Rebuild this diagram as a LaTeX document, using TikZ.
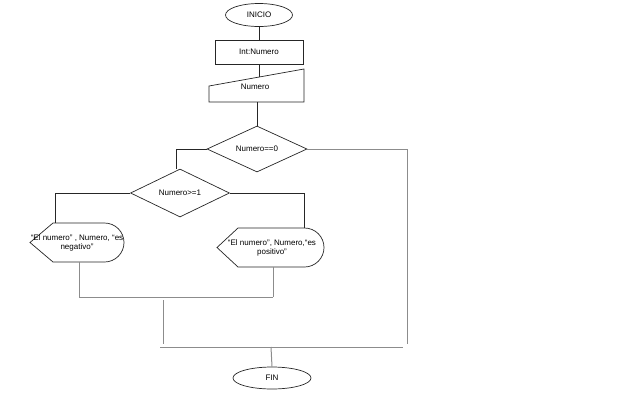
\documentclass[tikz,border=0pt]{standalone}
\usepackage{fontspec}
\setmainfont{Liberation Sans}
\usetikzlibrary{shapes.geometric}
\begin{document}
\begin{tikzpicture}[x=1pt,y=-1pt,font=\fontsize{8}{9.5}\selectfont,
  shp/.style={draw=black!85,line width=0.7pt},
  term/.style={shp,ellipse,inner sep=0pt},
  dec/.style={shp,diamond,inner sep=0pt,aspect=2.17},
  conn/.style={draw=black!85,line width=0.8pt},
  low/.style={draw=black!45,line width=1pt},
  txt/.style={inner sep=0pt,align=center}]
\useasboundingbox (0,0) rectangle (640,400);
% start
\node[term,minimum width=67pt,minimum height=23pt] (ini) at (259,15) {INICIO};
\node[shp,minimum width=88pt,minimum height=24pt,inner sep=0pt] (decl) at (259,52) {Int:Numero};
% manual input
\coordinate (mi1) at (209,86);
\coordinate (mi2) at (304,69);
\coordinate (mi3) at (304,102);
\coordinate (mi4) at (209,102);
\draw[shp] (mi1) -- (mi2) -- (mi3) -- (mi4) -- cycle;
\node[txt] (inp) at (255,87) {Numero};
\coordinate (inptop) at (259,77);
\coordinate (inpbot) at (257,102);
% decisions
\node[dec,minimum width=100pt,minimum height=46pt] (d1) at (257,149) {Numero==0};
\node[dec,minimum width=99pt,minimum height=48pt] (d2) at (180,193) {Numero>=1};
% displays
\draw[shp] (30,242.5) -- (53,223) -- (104.5,223)
  arc[start angle=-90,end angle=90,radius=19.5] -- (53,262) -- cycle;
\node[txt] (dl) at (77,243) {“El numero” , Numero, “es\\negativo”};
\draw[shp] (217,247.5) -- (238,228) -- (304.5,228)
  arc[start angle=-90,end angle=90,radius=19.5] -- (238,267) -- cycle;
\node[txt] (dr) at (272,248) {“El numero”, Numero,“es\\positivo”};
% end
\node[term,minimum width=78pt,minimum height=22pt] (fin) at (272,378) {FIN};
% coordinates
\coordinate (c1) at (176,169);
\coordinate (c2) at (55,223);
\coordinate (c3) at (304,228);
\coordinate (c4) at (407,344);
\coordinate (b1) at (79,262);
\coordinate (b2) at (273,267);
\coordinate (j1) at (79,297);
\coordinate (j2) at (273,297);
\coordinate (m1) at (163,300);
\coordinate (m2) at (163,344);
\coordinate (h1) at (160,347);
\coordinate (h2) at (403,347);
\coordinate (h3) at (271,347);
% connectors
\draw[conn] (ini.south) -- (decl.north);
\draw[conn] (decl.south) -- (inptop);
\draw[conn] (inpbot) -- (d1.north);
\draw[conn] (d1.west) -| (c1);
\draw[low] (d1.east) -| (c4);
\draw[conn] (d2.west) -| (c2);
\draw[conn] (d2.east) -| (c3);
\draw[low] (b1) -- (j1) -- (j2);
\draw[low] (b2) -- (j2);
\draw[low] (m1) -- (m2);
\draw[low] (h1) -- (h2);
\draw[low] (h3) -- (fin.north);
\end{tikzpicture}
\end{document}
